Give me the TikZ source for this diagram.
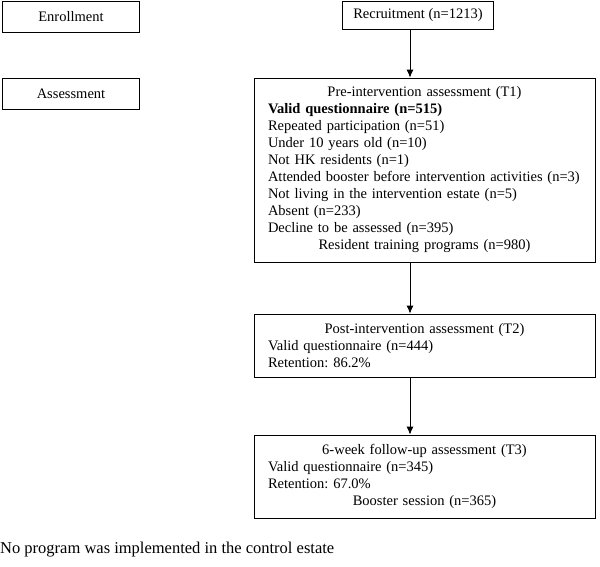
\documentclass[tikz,border=0pt]{standalone}
\usepackage{fontspec}
\setmainfont{Liberation Serif}
\usetikzlibrary{arrows.meta}
\frenchspacing

\newcommand{\midline}[1]{\makebox[\linewidth][c]{#1}}

\begin{document}
\begin{tikzpicture}[x=1pt, y=-1pt,
    phase/.style ={rectangle, draw, line width=0.8pt, inner sep=0pt,
                   minimum width=137pt, minimum height=31pt, font=\fontsize{14.5}{17}\selectfont},
    stage/.style ={rectangle, draw, line width=0.8pt, inner sep=0pt, minimum width=341pt,
                   text width=313pt, align=left, font=\fontsize{14.5}{17}\selectfont},
    flow/.style  ={line width=0.8pt, -{Latex[length=8pt,width=7pt]}}]
   \useasboundingbox (0,0) rectangle (600,566);
   \node[phase] (enrol)   at (71,16.5)  {Enrollment};
   \node[phase] (assess)  at (71,93.5)  {Assessment};
   \node[phase, minimum width=151pt, minimum height=28pt] (rec) at (418,15) {Recruitment (n=1213)};
   \node[stage, minimum height=184pt] (t1) at (424.5,170) {%
      \midline{Pre-intervention assessment (T1)}\\
      \textbf{Valid questionnaire (n=515)}\\
      Repeated participation (n=51)\\
      Under 10 years old (n=10)\\
      Not HK residents (n=1)\\
      Attended booster before intervention activities (n=3)\\
      Not living in the intervention estate (n=5)\\
      Absent (n=233)\\
      Decline to be assessed (n=395)\\
      \midline{Resident training programs (n=980)}};
   \node[stage, minimum height=63pt] (t2) at (424.5,345.5) {%
      \midline{Post-intervention assessment (T2)}\\
      Valid questionnaire (n=444)\\
      Retention: 86.2\%};
   \node[stage, minimum height=83pt] (t3) at (424.5,476.5) {%
      \midline{6-week follow-up assessment (T3)}\\
      Valid questionnaire (n=345)\\
      Retention: 67.0\%\\
      \midline{Booster session (n=365)}};
   \node[anchor=west, inner sep=0pt, font=\fontsize{16.5}{19}\selectfont] (note) at (0,550)
      {No program was implemented in the control estate};
   \coordinate (spine) at (410,0);
   \draw[flow] (rec.south -| spine) -- (t1.north -| spine);
   \draw[flow] (t1.south -| spine) -- (t2.north -| spine);
   \draw[flow] (t2.south -| spine) -- (t3.north -| spine);
\end{tikzpicture}
\end{document}
